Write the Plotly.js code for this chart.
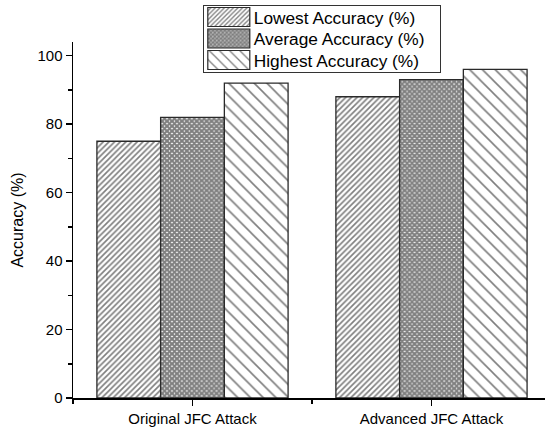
<!DOCTYPE html>
<html>
<head>
<meta charset="utf-8">
<script src="https://cdn.plot.ly/plotly-3.0.1.min.js"></script>
<style>html,body{margin:0;padding:0;background:#fff;}#chart{width:545px;height:429px;}</style>
</head>
<body>
<div id="chart"></div>
<script>
var categories = ["Original JFC Attack", "Advanced JFC Attack"];
var seriesNames = ["Lowest Accuracy (%)", "Average Accuracy (%)", "Highest Accuracy (%)"];
var lowest = [75, 88];
var average = [82, 93];
var highest = [92, 96];
var yTicks = [0, 20, 40, 60, 80, 100];

var xPos = categories.map(function (c, i) { return i; });
var patterns = [
  {shape: "/", size: 4, solidity: 0.42},
  {shape: "x", size: 3.5, solidity: 0.85},
  {shape: "\\", size: 9, solidity: 0.18}
];
var values = [lowest, average, highest];
var traces = values.map(function (v, i) {
  return {
    type: "bar",
    x: xPos,
    y: v,
    name: seriesNames[i],
    marker: {
      color: "#ffffff",
      line: {color: "#2a2a2a", width: 1.3},
      pattern: {shape: patterns[i].shape, size: patterns[i].size, solidity: patterns[i].solidity,
                fgcolor: "#000000", bgcolor: "#ffffff", fillmode: "overlay"}
    }
  };
});

var layout = {
  width: 545, height: 429,
  margin: {l: 73, r: 0, t: 42, b: 31},
  paper_bgcolor: "#ffffff", plot_bgcolor: "#ffffff",
  font: {family: "Liberation Sans, Arial, sans-serif", color: "#000000"},
  barmode: "group", bargap: 0.2, bargroupgap: 0,
  showlegend: true,
  legend: {
    x: 0.275, y: 1.104, xanchor: "left", yanchor: "top",
    bordercolor: "#333333", borderwidth: 1, bgcolor: "#ffffff",
    font: {size: 17.3, color: "#000000"}, tracegroupgap: 0, itemwidth: 40
  },
  xaxis: {
    range: [-0.5, 1.475], tickmode: "array", tickvals: xPos, ticktext: categories,
    showgrid: false, zeroline: false, showline: true, linecolor: "#000", linewidth: 1.5,
    ticks: "outside", ticklen: 6, tickwidth: 1.5, tickcolor: "#000",
    tickfont: {size: 15},
    minor: {tickmode: "linear", tick0: -0.5, dtick: 1, ticks: "outside", ticklen: 4, tickwidth: 1.5, tickcolor: "#000"}
  },
  yaxis: {
    range: [0, 104], tickmode: "array", tickvals: yTicks,
    title: {text: "Accuracy (%)", font: {size: 16}, standoff: 10},
    showgrid: false, zeroline: false, showline: true, linecolor: "#000", linewidth: 1.5,
    ticks: "outside", ticklen: 6, tickwidth: 1.5, tickcolor: "#000",
    tickfont: {size: 15},
    minor: {tickmode: "linear", tick0: 10, dtick: 20, ticks: "outside", ticklen: 3.5, tickwidth: 1.5, tickcolor: "#000"}
  }
};
Plotly.newPlot("chart", traces, layout, {displayModeBar: false, staticPlot: true}).then(function (gd) {
  // compact the legend rows and widen the swatches, as in the reference
  var rowH = 21.5, firstY = 12, boxH = 67, boxW = 237;
  var items = gd.querySelectorAll(".legend .traces");
  items.forEach(function (g, i) {
    var t = g.getAttribute("transform") || "";
    var m = /translate\(\s*([-\d.]+)[ ,]+([-\d.]+)\s*\)/.exec(t);
    var tx = m ? parseFloat(m[1]) : 0;
    g.setAttribute("transform", "translate(" + tx + "," + (firstY + i * rowH) + ")");
    var p = g.querySelector(".legendpoints path");
    if (p) { p.setAttribute("d", "M-21,-9.5H21V9.5H-21Z"); p.style.strokeWidth = "1.2px"; }
  });
  var bg = gd.querySelector(".legend rect.bg");
  if (bg) { bg.setAttribute("height", boxH); bg.setAttribute("width", boxW); }
  var sb = gd.querySelector(".legend .scrollbox");
  if (sb) sb.removeAttribute("clip-path");
});
</script>
</body>
</html>
